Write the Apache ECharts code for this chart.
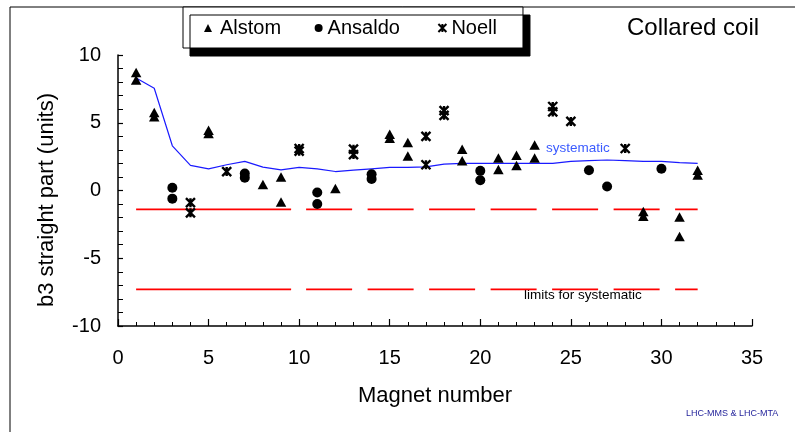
<!DOCTYPE html>
<html><head><meta charset="utf-8">
<script src="https://cdn.jsdelivr.net/npm/echarts@6/dist/echarts.min.js"></script>
<style>html,body{margin:0;padding:0;background:#fff}#c{width:795px;height:432px}</style>
</head><body><div id="c"></div>
<script>
// ---- data ----
const magnets = [1,2,3,4,5,6,7,8,9,10,11,12,13,14,15,16,17,18,19,20,21,22,23,24,25,26,27,28,29,30,31,32];
const systematicB3 = [8.3,7.55,3.3,1.85,1.6,1.9,2.15,1.72,1.52,1.7,1.6,1.4,1.5,1.6,1.7,1.7,1.75,1.95,2.0,2.0,2.0,2.0,2.0,2.0,2.15,2.2,2.25,2.2,2.15,2.15,2.05,2.0];

const alstomMagnets = [1,1,2,2,5,5,8,9,9,12,15,15,16,16,19,19,21,21,22,22,23,23,29,29,31,31,32,32];
const alstomB3      = [8.7,8.15,5.75,5.45,4.45,4.2,0.45,1.0,-0.85,0.15,4.15,3.85,3.55,2.55,3.05,2.2,2.4,1.55,2.6,1.85,3.35,2.4,-1.55,-1.9,-1.95,-3.4,1.5,1.15];

const ansaldoMagnets = [3,3,7,7,11,11,14,14,20,20,26,27,30];
const ansaldoB3      = [0.2,-0.6,1.25,0.95,-0.15,-1.0,1.2,0.85,1.45,0.75,1.5,0.3,1.6];

const noellMagnets = [4,4,6,10,10,13,13,17,17,18,18,24,24,25,28];
const noellB3      = [-0.9,-1.65,1.4,3.1,2.9,3.05,2.65,4.0,1.9,5.9,5.55,6.2,5.8,5.1,3.1];

const limitMagnets = [1, 32];
const upperLimit = [-1.4, -1.4];
const lowerLimit = [-7.3, -7.3];

const seriesNames = ['Alstom', 'Ansaldo', 'Noell'];
const titleText = 'Collared coil';
const xAxisName = 'Magnet number';
const yAxisName = 'b3 straight part (units)';

// ---- helpers ----
const zip = (xs, ys) => xs.map((x, i) => [x, ys[i]]);
const FONT = 'Liberation Sans, Arial, sans-serif';
const starPath = 'path://M0,0L10,10M10,0L0,10M5,0L5,10';
const limitDash = [155,15,46,15.5,46,15.5,46,15.5,46,15.5,46,15.5,46,15.5,46,15.5,46,100];
const RED = '#ff0000';

const chart = echarts.init(document.getElementById('c'), null, {renderer: 'canvas'});
chart.setOption({
  animation: false,
  backgroundColor: '#fff',
  textStyle: {fontFamily: FONT},
  title: {
    text: titleText, left: 627, top: 16, padding: 0,
    textStyle: {fontFamily: FONT, fontSize: 24, fontWeight: 'normal', color: '#000'}
  },
  legend: {
    data: [
      {name: seriesNames[0], textStyle: {padding: [0, 0, 0, 3]}},
      {name: seriesNames[1], textStyle: {padding: [0, 4, 0, 0]}},
      {name: seriesNames[2]}
    ],
    left: 183, top: 7,
    padding: [11, 26, 10, 21],
    itemGap: 33.5, itemWidth: 8, itemHeight: 8,
    backgroundColor: '#fff', borderColor: '#000', borderWidth: 1,
    shadowColor: '#000', shadowBlur: 0, shadowOffsetX: 7, shadowOffsetY: 8,
    textStyle: {fontFamily: FONT, fontSize: 20, color: '#000', lineHeight: 20}
  },
  grid: {left: 118, right: 43, top: 55, bottom: 106},
  xAxis: {
    type: 'value', min: 0, max: 35, interval: 5,
    name: xAxisName, nameLocation: 'middle', nameGap: 59,
    nameTextStyle: {fontFamily: FONT, fontSize: 22, color: '#000'},
    axisLine: {onZero: false, lineStyle: {color: '#000', width: 1.5}},
    axisTick: {inside: true, length: 7, lineStyle: {color: '#000', width: 1.2}},
    minorTick: {show: true, splitNumber: 5, length: 4, lineStyle: {color: '#000', width: 1}},
    axisLabel: {fontFamily: FONT, fontSize: 20, color: '#000', margin: 22},
    splitLine: {show: false}
  },
  yAxis: {
    type: 'value', min: -10, max: 10, interval: 5,
    name: yAxisName, nameLocation: 'middle', nameGap: 60, nameRotate: 90,
    nameTextStyle: {fontFamily: FONT, fontSize: 22, color: '#000', padding: [0, 19, 0, 0]},
    axisLine: {show: true, onZero: false, lineStyle: {color: '#000', width: 1.5}},
    axisTick: {show: true, inside: true, length: 5, lineStyle: {color: '#000', width: 1.2}},
    minorTick: {show: true, splitNumber: 5, length: 5, lineStyle: {color: '#000', width: 1}},
    axisLabel: {fontFamily: FONT, fontSize: 20, color: '#000', margin: 17},
    splitLine: {show: false}
  },
  series: [
    {
      name: 'limit upper', type: 'line', data: zip(limitMagnets, upperLimit),
      showSymbol: false, silent: true, z: 2, color: RED,
      lineStyle: {color: RED, width: 1.8, type: limitDash, cap: 'butt'}
    },
    {
      name: 'limit lower', type: 'line', data: zip(limitMagnets, lowerLimit),
      showSymbol: false, silent: true, z: 2, color: RED,
      lineStyle: {color: RED, width: 1.8, type: limitDash, cap: 'butt'}
    },
    {
      name: 'systematic', type: 'line', data: zip(magnets, systematicB3),
      showSymbol: false, silent: true, z: 2,
      lineStyle: {color: '#1a1aff', width: 1.2}
    },
    {
      name: seriesNames[0], type: 'scatter', data: zip(alstomMagnets, alstomB3),
      symbol: 'triangle', symbolSize: [10.5, 9.5], z: 3,
      itemStyle: {color: '#000', opacity: 1}
    },
    {
      name: seriesNames[1], type: 'scatter', data: zip(ansaldoMagnets, ansaldoB3),
      symbol: 'circle', symbolSize: 10, z: 3,
      itemStyle: {color: '#000', opacity: 1}
    },
    {
      name: seriesNames[2], type: 'scatter', data: zip(noellMagnets, noellB3),
      symbol: starPath, symbolSize: 9, z: 3,
      itemStyle: {color: '#000', borderColor: '#000', borderWidth: 2.4, opacity: 1}
    }
  ],
  graphic: [
    {type: 'line', shape: {x1: 10, y1: 7, x2: 795, y2: 7}, style: {stroke: '#000', lineWidth: 1}, z: 0},
    {type: 'line', shape: {x1: 10, y1: 7, x2: 10, y2: 432}, style: {stroke: '#000', lineWidth: 1}, z: 0},
    {type: 'text', x: 546, y: 148, style: {text: 'systematic', fontFamily: FONT, fontSize: 13.5, fill: '#3b5bff', verticalAlign: 'middle'}},
    {type: 'text', x: 524, y: 295, style: {text: 'limits for systematic', fontFamily: FONT, fontSize: 13.5, fill: '#000', verticalAlign: 'middle'}},
    {type: 'text', x: 686, y: 414, style: {text: 'LHC-MMS & LHC-MTA', fontFamily: FONT, fontSize: 9, fill: '#1f1f99', verticalAlign: 'middle'}}
  ]
});
</script>
</body></html>
